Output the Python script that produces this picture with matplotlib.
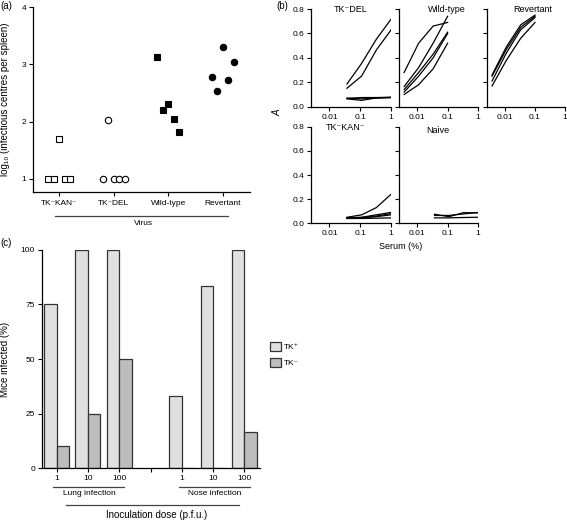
import numpy as np
import matplotlib

matplotlib.use("Agg")
import matplotlib.pyplot as plt
from matplotlib.patches import Patch
from matplotlib.transforms import blended_transform_factory

plt.rcParams['font.family'] = ['Liberation Sans', 'DejaVu Sans']
plt.rcParams['font.size'] = 6
plt.rcParams['axes.linewidth'] = 0.9

# (a) infectious centres per spleen, log10
viruses = ["TK⁻KAN⁻", "TK⁻DEL", "Wild-type", "Revertant"]
kan_values = [1.0, 1.0, 1.7, 1.0, 1.0]
del_values = [1.0, 2.02, 1.0, 1.0, 1.0]
wt_values = [3.12, 2.2, 2.31, 2.04, 1.81]
rev_values = [2.77, 2.54, 3.31, 2.72, 3.04]
jitter = [-0.2, -0.1, 0.0, 0.1, 0.2]

# (b) ELISA absorbance vs serum dilution
serum_high = [1 / 27, 1 / 9, 1 / 3, 1]
serum_low = [1 / 270, 1 / 90, 1 / 30, 1 / 10]
del_curves = [[0.186, 0.355, 0.552, 0.716],
              [0.151, 0.251, 0.464, 0.628],
              [0.068, 0.075, 0.075, 0.078],
              [0.064, 0.052, 0.072, 0.076],
              [0.07, 0.064, 0.07, 0.074]]
wt_curves = [[0.28, 0.52, 0.66, 0.69],
             [0.165, 0.32, 0.52, 0.74],
             [0.14, 0.28, 0.43, 0.61],
             [0.12, 0.25, 0.40, 0.60],
             [0.10, 0.18, 0.31, 0.52]]
rev_curves = [[0.26, 0.49, 0.67, 0.75],
              [0.25, 0.47, 0.65, 0.74],
              [0.21, 0.44, 0.63, 0.73],
              [0.17, 0.38, 0.56, 0.69]]
kan_curves = [[0.05, 0.07, 0.13, 0.24],
              [0.045, 0.05, 0.07, 0.09],
              [0.045, 0.048, 0.06, 0.08],
              [0.04, 0.045, 0.055, 0.07],
              [0.04, 0.04, 0.042, 0.045]]
naive_curves = [[0.075, 0.055, 0.088, 0.086],
                [0.065, 0.065, 0.078, 0.09],
                [0.045, 0.045, 0.048, 0.05]]

# (c) mice infected (%)
doses = ["1", "10", "100"]
lung_tkp = [75, 100, 100]
lung_tkm = [10, 25, 50]
nose_tkp = [33.3, 83.3, 100]
nose_tkm = [0, 0, 16.7]

W, H = 567, 521
fig = plt.figure(figsize=(W / 100, H / 100), dpi=100)


def box(x0, y0, x1, y1):
    # pixel box (top-left origin) -> figure fraction rect
    return [x0 / W, 1 - y1 / H, (x1 - x0) / W, (y1 - y0) / H]


def style(ax):
    ax.spines['top'].set_visible(False)
    ax.spines['right'].set_visible(False)
    ax.tick_params(direction='out', length=3, width=0.8, pad=2, labelsize=6)


# ---------- panel a ----------
axa = fig.add_axes(box(33, 7, 250, 192))
style(axa)
groups = [(kan_values, 's', 'white'), (del_values, 'o', 'white'),
          (wt_values, 's', 'black'), (rev_values, 'o', 'black')]
for i, (vals, m, fc) in enumerate(groups):
    xs = i + np.asarray(jitter)
    axa.plot(xs, vals, m, mfc=fc, mec='black', mew=0.8,
             ms=5 if m == 's' else 4.6, ls='none', clip_on=False)
axa.set_xlim(-0.48, 3.5)
axa.set_ylim(0.77, 4)
axa.spines['left'].set_bounds(0.77, 4)
axa.set_yticks([1, 2, 3, 4])
axa.set_xticks(range(4))
axa.set_xticklabels(viruses)
axa.tick_params(axis='x', pad=3)
axa.set_ylabel("log₁₀ (infectious centres per spleen)", fontsize=7, labelpad=8)
ta = blended_transform_factory(axa.transData, axa.transAxes)
axa.plot([-0.07, 3.1], [-0.13, -0.13], color='#444444', lw=0.9,
         transform=ta, clip_on=False)
axa.text(1.54, -0.17, "Virus", transform=ta, ha='center', va='center', fontsize=6)

# ---------- panel b ----------
cols = [(311, 391), (399, 478), (487, 565)]
rows = [(9, 106.7), (126.7, 223.3)]
panels = [
    (0, 0, "TK⁻DEL", del_curves, serum_high, 0.49, 0.99),
    (0, 1, "Wild-type", wt_curves, serum_low, 0.6, 0.99),
    (0, 2, "Revertant", rev_curves, serum_low, 0.59, 0.99),
    (1, 0, "TK⁻KAN⁻", kan_curves, serum_high, 0.43, 0.99),
    (1, 1, "Naive", naive_curves, serum_high, 0.49, 0.965),
]
for r, c, title, curves, xs, tx, ty in panels:
    ax = fig.add_axes(box(cols[c][0], rows[r][0], cols[c][1], rows[r][1]))
    style(ax)
    for cv in curves:
        ax.plot(xs, cv, color='black', lw=0.9)
    ax.set_xscale('log')
    ax.set_xlim(10 ** -2.6, 1)
    ax.set_ylim(0, 0.8)
    ax.set_xticks([0.01, 0.1, 1])
    ax.set_xticklabels(["0.01", "0.1", "1"])
    ax.minorticks_off()
    ax.set_yticks([0, 0.2, 0.4, 0.6, 0.8])
    if c == 0:
        ax.set_yticklabels(["0.0", "0.2", "0.4", "0.6", "0.8"])
    else:
        ax.set_yticklabels([])
    ax.text(tx, ty, title, transform=ax.transAxes, ha='center', va='center',
            fontsize=6.5)

fig.text(277 / W, 1 - 113 / H, "A", rotation=90, style='italic',
         ha='center', va='center', fontsize=7)
fig.text(401 / W, 1 - 246.7 / H, "Serum (%)", ha='center', va='center', fontsize=6.5)

# ---------- panel c ----------
axc = fig.add_axes(box(42, 249.7, 260, 468.3))
style(axc)
width = 0.4
lung_pos = np.arange(3)
nose_pos = np.arange(3) + 4
tkp_color = '#e0e0e0'
tkm_color = '#bdbdbd'
edge = '#333333'
axc.bar(lung_pos - width / 2, lung_tkp, width, color=tkp_color, edgecolor=edge, lw=0.9)
axc.bar(lung_pos + width / 2, lung_tkm, width, color=tkm_color, edgecolor=edge, lw=0.9)
axc.bar(nose_pos - width / 2, nose_tkp, width, color=tkp_color, edgecolor=edge, lw=0.9)
axc.bar(nose_pos + width / 2, nose_tkm, width, color=tkm_color, edgecolor=edge, lw=0.9)
axc.set_xlim(-0.47, 6.5)
axc.set_ylim(0, 100)
axc.set_yticks([0, 25, 50, 75, 100])
axc.set_xticks(list(lung_pos) + [3] + list(nose_pos))
axc.set_xticklabels(doses + [""] + doses)
axc.set_ylabel("Mice infected (%)", fontsize=7, labelpad=8)
tc = blended_transform_factory(axc.transData, axc.transAxes)
line_kw = dict(color='#444444', lw=0.9, transform=tc, clip_on=False)
axc.plot([-0.12, 2.14], [-0.084, -0.084], **line_kw)
axc.plot([3.91, 6.17], [-0.084, -0.084], **line_kw)
axc.plot([0.29, 5.83], [-0.168, -0.168], **line_kw)
axc.text(1.03, -0.117, "Lung infection", transform=tc, ha='center', va='center', fontsize=6)
axc.text(5.04, -0.117, "Nose infection", transform=tc, ha='center', va='center', fontsize=6)
axc.text(3.2, -0.214, "Inoculation dose (p.f.u.)", transform=tc, ha='center',
         va='center', fontsize=7)

handles = [Patch(facecolor=tkp_color, edgecolor=edge, lw=0.9),
           Patch(facecolor=tkm_color, edgecolor=edge, lw=0.9)]
fig.legend(handles, ["TK⁺", "TK⁻"], loc='upper left',
           bbox_to_anchor=(264 / W, 1 - 336 / H), frameon=False,
           handlelength=1.3, handleheight=1.3, handletextpad=0.4,
           labelspacing=0.8, borderpad=0.2, fontsize=6)

# panel labels
fig.text(6 / W, 1 - 6 / H, "(a)", ha='center', va='center', fontsize=7)
fig.text(282 / W, 1 - 6 / H, "(b)", ha='center', va='center', fontsize=7)
fig.text(6 / W, 1 - 243 / H, "(c)", ha='center', va='center', fontsize=7)

fig.savefig("out.png", dpi=100)
